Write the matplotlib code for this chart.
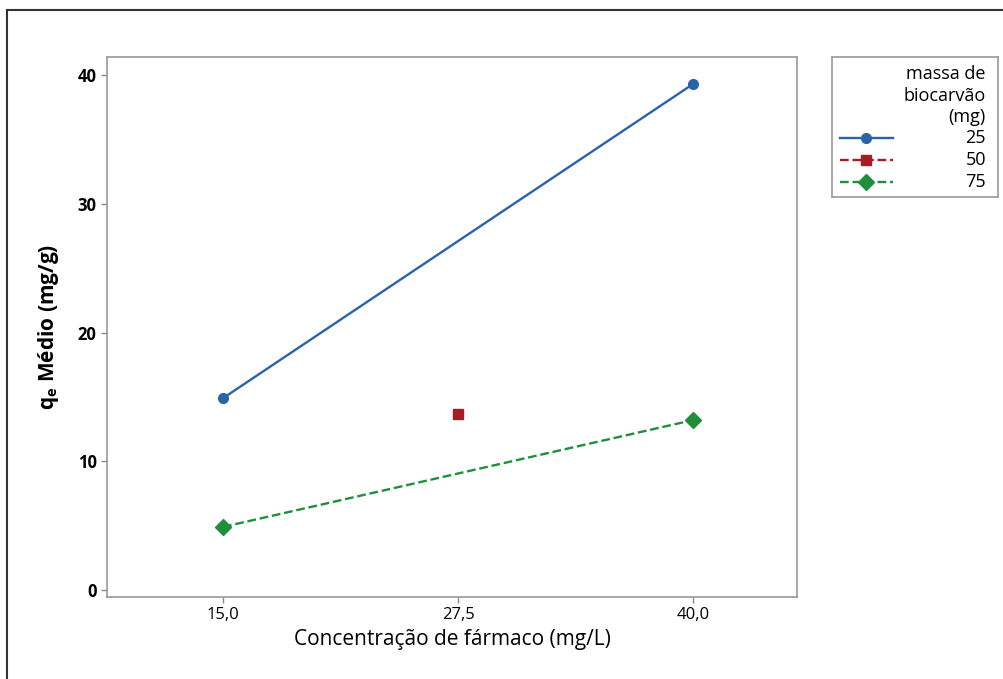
import matplotlib.pyplot as plt
from matplotlib.lines import Line2D

plt.rcParams['font.family'] = ['Open Sans', 'DejaVu Sans']

# data
conc_25 = [15.0, 40.0]
qe_25 = [14.9, 39.3]
conc_50 = [27.5]
qe_50 = [13.7]
conc_75 = [15.0, 40.0]
qe_75 = [4.9, 13.2]
x_ticks = [15.0, 27.5, 40.0]
x_tick_labels = ['15,0', '27,5', '40,0']
y_ticks = [0, 10, 20, 30, 40]
legend_title = ['massa de', 'biocarvão', '(mg)']
legend_labels = ['25', '50', '75']

blue = '#2a63a8'
red = '#a31d24'
green = '#1f8f3c'
colors = [blue, red, green]
styles = ['-', '--', '--']
markers = ['o', 's', 'D']

fig = plt.figure(figsize=(10.04, 6.79), dpi=100)
ax = fig.add_axes([0.1066, 0.1208, 0.6873, 0.7953])

ax.plot(conc_25, qe_25, color=blue, linestyle='-', linewidth=1.7,
        marker='o', markersize=7)
ax.plot(conc_50, qe_50, color=red, linestyle='--', linewidth=1.7,
        marker='s', markersize=7)
ax.plot(conc_75, qe_75, color=green, linestyle='--', linewidth=1.7,
        marker='D', markersize=8)

ax.set_xlim(8.83, 45.53)
ax.set_ylim(-0.54, 41.4)
ax.set_xticks(x_ticks)
ax.set_xticklabels(x_tick_labels, fontsize=12)
ax.set_yticks(y_ticks)
ax.set_yticklabels([str(v) for v in y_ticks], fontsize=12, fontweight='bold')
ax.tick_params(color='#888888', length=4, width=1)

for s in ax.spines.values():
    s.set_color('#999999')
    s.set_linewidth(1.2)

ax.set_xlabel('Concentração de fármaco (mg/L)', fontsize=15, labelpad=4)
ax.set_ylabel(r'q$_\mathregular{e}$ Médio (mg/g)', fontsize=15,
              fontweight='bold', labelpad=12)

# legend box drawn in its own small axes (pixel-like units)
lax = fig.add_axes([832 / 1004, 1 - 197 / 679, 166 / 1004, 140 / 679])
lax.set_xlim(0, 166)
lax.set_ylim(140, 0)
lax.set_xticks([])
lax.set_yticks([])
for s in lax.spines.values():
    s.set_color('#999999')
    s.set_linewidth(1.2)

title_y = [17, 39, 60]
for t, yy in zip(legend_title, title_y):
    lax.text(154, yy, t, ha='right', va='center', fontsize=13,
             fontweight='medium')

row_y = [81, 103, 125]
for lab, yy, c, ls, m in zip(legend_labels, row_y, colors, styles, markers):
    lax.plot([8, 61], [yy, yy], color=c, linestyle=ls, linewidth=1.7)
    lax.plot([34], [yy], color=c, marker=m, markersize=7 if m != 'D' else 8)
    lax.text(154, yy, lab, ha='right', va='center', fontsize=13,
             fontweight='medium')

# outer frame (top and left only)
fig.add_artist(Line2D([0.007, 0.007], [0.0, 0.985], color='#333333',
                      linewidth=1.5, transform=fig.transFigure))
fig.add_artist(Line2D([0.007, 1.0], [0.985, 0.985], color='#333333',
                      linewidth=1.5, transform=fig.transFigure))

plt.savefig('out.png', dpi=100)
